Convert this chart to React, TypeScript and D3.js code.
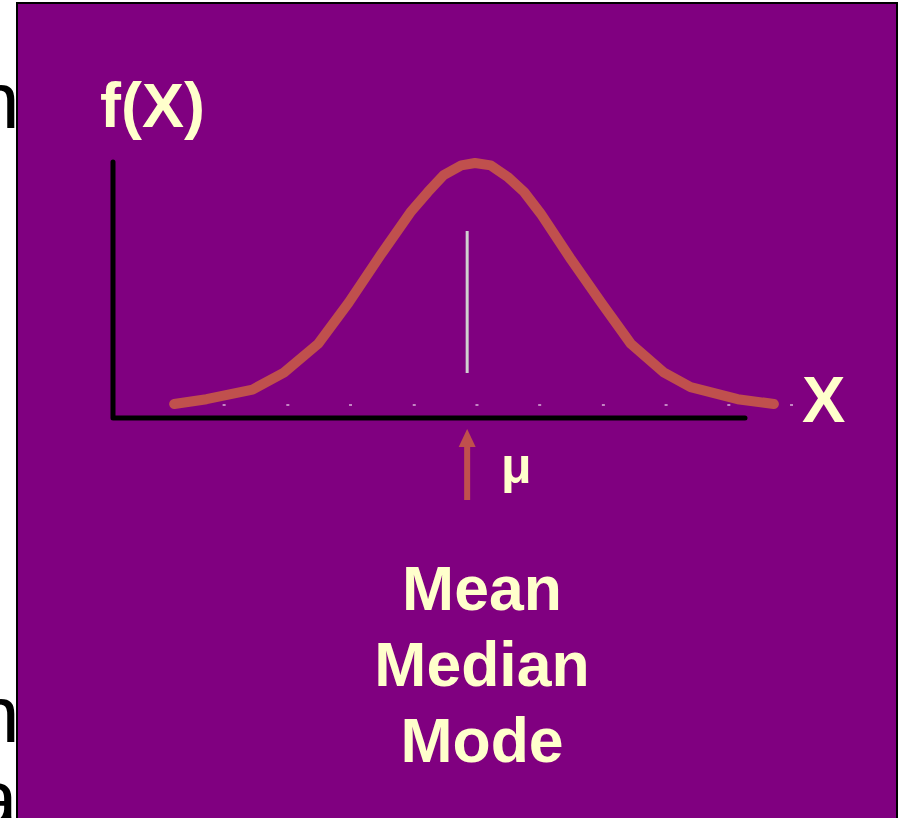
import React from "react";
import * as d3 from "d3";

// Curve sample points (z in sigma units, relative density)
const curveZ = [-3.07, -2.74, -2.27, -1.95, -1.6, -1.29, -0.96, -0.65, -0.48, -0.32, -0.14, 0, 0.16, 0.34, 0.5, 0.67, 0.98, 1.29, 1.59, 1.93, 2.2, 2.68, 3.05];
const curveF = [0.0, 0.02, 0.06, 0.13, 0.25, 0.42, 0.62, 0.8, 0.88, 0.95, 0.99, 1.0, 0.99, 0.94, 0.88, 0.79, 0.6, 0.42, 0.25, 0.13, 0.07, 0.02, 0.0];
const tickZ = [-2.56, -1.91, -1.27, -0.62, 0.02, 0.66, 1.31, 1.95, 2.59, 3.23];
const labels = ["Mean", "Median", "Mode"];

const W = 899;
const H = 818;

export default function App() {
  const x = d3.scaleLinear().domain([-4, 4]).range([475 - 392, 475 + 392]);
  const y = d3.scaleLinear().domain([0, 1]).range([404, 163]);
  const pts: [number, number][] = curveZ.map((z, i) => [z, curveF[i]]);
  const line = d3
    .line<[number, number]>()
    .x((d) => x(d[0]))
    .y((d) => y(d[1]));
  const font = "'Liberation Sans', Arial, sans-serif";
  const yellow = "#FFFFCC";
  const red = "#C0504D";
  const muX = x(-0.08);
  return (
    <div style={{ position: "absolute", left: 0, top: 0, width: W, height: H, overflow: "hidden", background: "#fff" }}>
      <svg width={W} height={H} style={{ display: "block" }}>
        <rect x={0} y={0} width={W} height={H} fill="#fff" />
        <g fontFamily={font} fontSize={80} fill="#000">
          <text x={-25} y={128}>n</text>
          <text x={-25} y={742}>n</text>
          <text x={-27} y={826}>a</text>
        </g>
        <rect x={17} y={3} width={880} height={840} fill="#800080" stroke="#000" strokeWidth={2} />
        {/* ticks */}
        {tickZ.map((t, i) => (
          <line key={i} x1={x(t) - 1.5} x2={x(t) + 1.5} y1={405} y2={405} stroke="#F0DDF0" strokeWidth={1.2} />
        ))}
        {/* axes */}
        <path d={`M113,162 L113,418 L745,418`} fill="none" stroke="#000" strokeWidth={5} strokeLinejoin="round" strokeLinecap="round" />
        {/* mean line */}
        <line x1={muX} x2={muX} y1={231} y2={373} stroke="#D0D0D0" strokeWidth={3} />
        {/* curve */}
        <path d={line(pts) || ""} fill="none" stroke={red} strokeWidth={10} strokeLinejoin="round" strokeLinecap="round" />
        {/* arrow */}
        <line x1={muX} x2={muX} y1={445} y2={500} stroke={red} strokeWidth={6} />
        <path d={`M${muX - 8.5},447 L${muX + 8.5},447 L${muX},429 Z`} fill={red} />
        <text x={501} y={483} fontFamily={font} fontWeight="bold" fontSize={50} fill={yellow}>μ</text>
        <text x={100} y={127} fontFamily={font} fontWeight="bold" fontSize={63} fill={yellow}>f(X)</text>
        <text x={802} y={422} fontFamily={font} fontWeight="bold" fontSize={65} fill={yellow}>X</text>
        {labels.map((l, i) => (
          <text key={l} x={482} y={610 + i * 76} textAnchor="middle" fontFamily={font} fontWeight="bold" fontSize={62.5} fill={yellow}>
            {l}
          </text>
        ))}
      </svg>
    </div>
  );
}
